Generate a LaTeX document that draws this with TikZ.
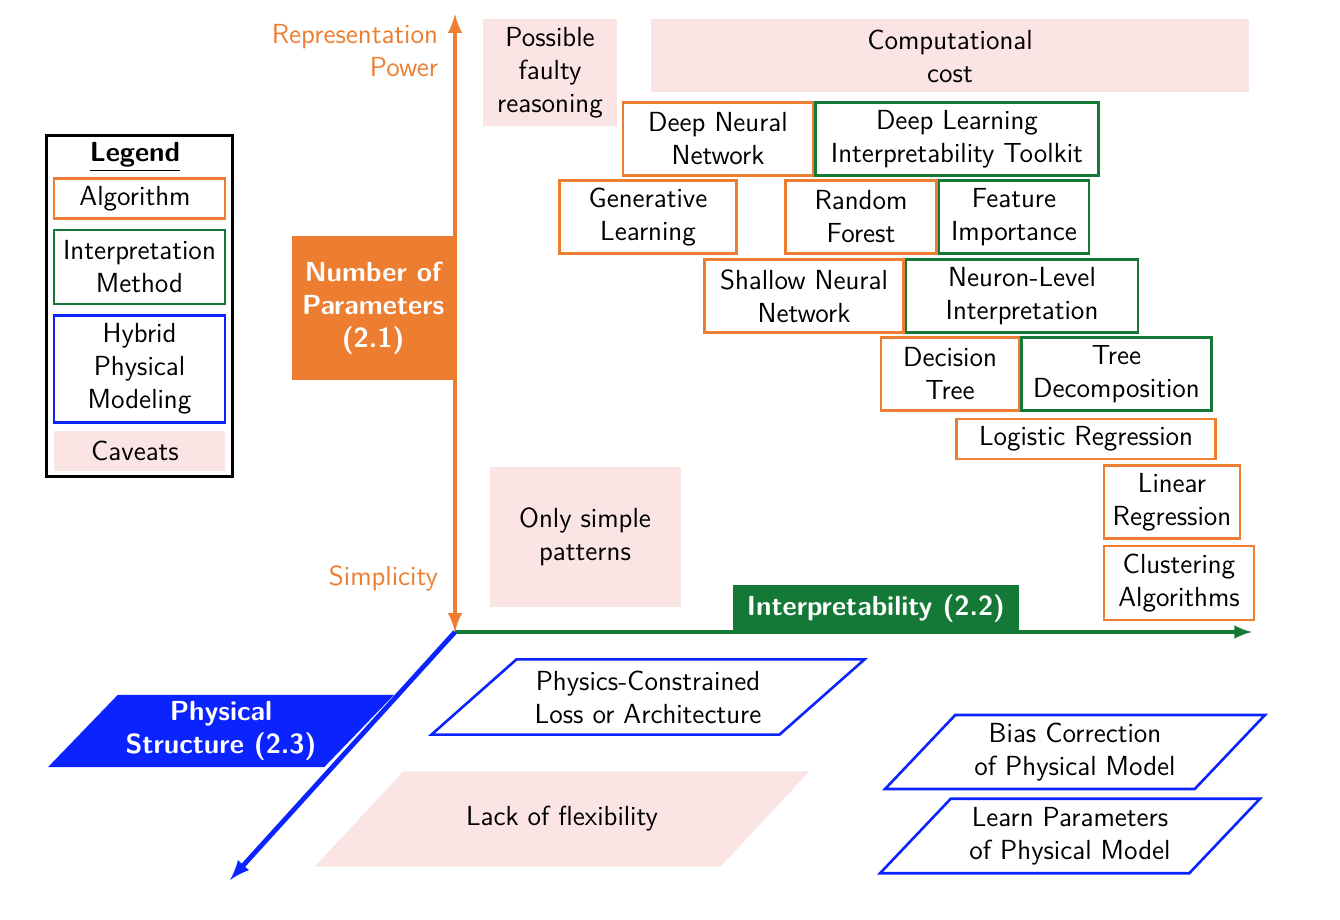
\documentclass[tikz,border=0pt]{standalone}
\usepackage{fontspec}
\usepackage{tikz}
\usetikzlibrary{matrix,arrows,positioning,shapes.geometric}
\definecolor{algoorange}{RGB}{237,125,49}
\definecolor{interpgreen}{RGB}{20,120,55}
\definecolor{hybridblue}{RGB}{10,35,255}
\definecolor{caveatpink}{RGB}{251,228,228}
\newcommand{\labelfont}{\fontsize{13.8}{16.5}\selectfont\sffamily}
\tikzset{
	algo/.style={draw=algoorange, line width=1.25pt, fill=white, align=center, inner sep=2pt},
	interp/.style={draw=interpgreen, line width=1.25pt, fill=white, align=center, inner sep=2pt},
	slanted/.style={trapezium, trapezium stretches body, trapezium left angle=#1, trapezium right angle=180-#1},
	hybrid/.style={draw=hybridblue, line width=1.3pt, fill=white, align=center, inner xsep=1pt, slanted=#1},
	caveat/.style={fill=caveatpink, align=center},
	axisbox/.style={fill=#1, text=white, font=\labelfont\bfseries, align=center, inner sep=1pt}
}

\begin{document}
\begin{tikzpicture}[x=0.5pt, y=-0.5pt, every node/.style={font=\labelfont}]
	\useasboundingbox (0,0) rectangle (1340,920);
	\coordinate (origin) at (455,632);
	\coordinate (ytop) at (455,14);
	\coordinate (xend) at (1252,632);
	\coordinate (zend) at (230,880);

	% legend
	\matrix (legend) [draw, line width=1.5pt, matrix of nodes, row sep=4.5pt, inner sep=3pt,
		nodes={align=center, minimum width=85.5pt}] at (139.5,306)
	{
		|[inner sep=0.5pt]| \textbf{\underline{Legend}} \\[-2pt]
		|[algo, minimum height=20pt]| Algorithm \\
		|[interp, text width=80pt, minimum height=37pt]| Interpretation Method \\
		|[draw=hybridblue, line width=1.3pt, text width=62pt, minimum height=53.5pt]| Hybrid Physical Modeling \\[-1pt]
		|[caveat, minimum height=20pt]| Caveats \\
	};

	% caveats
	\node[caveat, minimum width=67pt, minimum height=53.5pt] (faulty) at (550,73) {Possible\\faulty\\reasoning};
	\node[caveat, minimum width=299pt, minimum height=36.5pt] (cost) at (950,56) {Computational\\cost};
	\node[caveat, minimum width=95.5pt, minimum height=70pt] (simple) at (585,537) {Only simple\\patterns};
	\node[caveat, slanted=47, inner ysep=17.6pt, minimum width=247.5pt] (flex) at (562,819) {Lack of flexibility};

	% axis boxes
	\node[axisbox=algoorange, minimum width=81.5pt, minimum height=71.5pt, anchor=east] (params) at (455,308) {Number of\\Parameters\\(2.1)};
	\node[axisbox=interpgreen, minimum width=143pt, minimum height=23.5pt, anchor=south] (interpret) at (876,632) {Interpretability (2.2)};
	\node[axisbox=hybridblue, slanted=46, inner ysep=3.3pt, minimum width=173pt] (physical) at (221,731) {Physical\\Structure (2.3)};

	% axes
	\draw[latex-latex, algoorange, line width=2.2pt] (origin) -- (ytop);
	\draw[-latex, interpgreen, line width=2pt] (origin) -- (xend);
	\draw[-latex, hybridblue, line width=2.4pt] (origin) -- (zend);
	\node[text=algoorange, align=right, anchor=east] (power) at (445,51) {Representation\\Power};
	\node[text=algoorange, anchor=east] (simplicity) at (445,578) {Simplicity};

	% algorithms and interpretation methods
	\node[algo, minimum width=95pt, minimum height=36.5pt] (dnn) at (718,139) {Deep Neural\\Network};
	\node[interp, minimum width=141.5pt, minimum height=36.5pt, right=0pt of dnn] (dlit) {Deep Learning\\Interpretability Toolkit};
	\node[algo, minimum width=88.5pt, minimum height=36.5pt] (gen) at (648,217) {Generative\\Learning};
	\node[algo, minimum width=75.5pt, minimum height=36.5pt] (rf) at (861,217) {Random\\Forest};
	\node[interp, minimum width=75pt, minimum height=36.5pt, right=0pt of rf] (fi) {Feature\\Importance};
	\node[algo, minimum width=99.5pt, minimum height=36.5pt] (snn) at (804,296) {Shallow Neural\\Network};
	\node[interp, minimum width=116pt, minimum height=36.5pt, right=0pt of snn] (nli) {Neuron-Level\\Interpretation};
	\node[algo, minimum width=69pt, minimum height=36.5pt] (dt) at (950,374) {Decision\\Tree};
	\node[interp, minimum width=95pt, minimum height=36.5pt, right=0pt of dt] (td) {Tree\\Decomposition};
	\node[algo, minimum width=129.5pt, minimum height=20pt] (logreg) at (1086,439) {Logistic Regression};
	\node[algo, minimum width=68pt, minimum height=36.5pt] (linreg) at (1172,502) {Linear\\Regression};
	\node[algo, minimum width=75pt, minimum height=37pt] (clust) at (1179,583) {Clustering\\Algorithms};

	% hybrid physical models
	\node[hybrid=41.5, inner ysep=5.6pt, minimum width=216.5pt] (physloss) at (648,697) {Physics-Constrained\\Loss or Architecture};
	\node[hybrid=46.5, inner ysep=4pt, minimum width=190pt] (bias) at (1075,752) {Bias Correction\\of Physical Model};
	\node[hybrid=46.5, inner ysep=4.2pt, minimum width=190pt] (learnp) at (1070,836) {Learn Parameters\\of Physical Model};
\end{tikzpicture}
\end{document}
